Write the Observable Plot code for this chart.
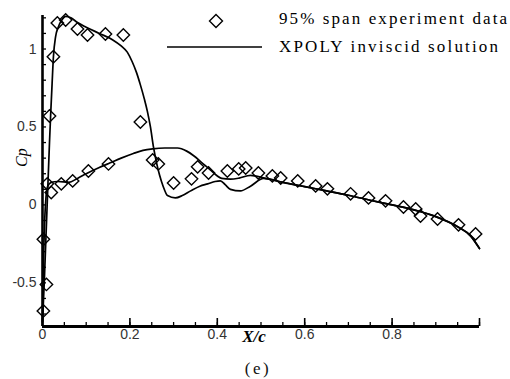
<!DOCTYPE html>
<html>
<head>
<meta charset="utf-8">
<script src="https://cdn.jsdelivr.net/npm/d3@7"></script>
<script src="https://cdn.jsdelivr.net/npm/@observablehq/plot@0.6"></script>
<style>
  html, body { margin: 0; padding: 0; background: #fff; }
  #wrap { position: relative; width: 510px; height: 379px; }
  #legend { position: absolute; left: 0; top: 0; }
  #caption { font-family: "Liberation Serif", serif; font-size: 17px; letter-spacing: 2.5px;
             text-align: center; line-height: 22px; margin-top: 6px; padding-left: 6px; color: #111; }
</style>
</head>
<body>
<div id="wrap"></div>
<script>
// ---- data (x/c, Cp) ----
const upperSurface = [
  [0, -0.75], [0.004, -0.5], [0.008, -0.2], [0.012, 0.1], [0.016, 0.4], [0.019, 0.6],
  [0.022, 0.78], [0.025, 0.95], [0.03, 1.08], [0.036, 1.14], [0.045, 1.19], [0.053, 1.21],
  [0.065, 1.2], [0.08, 1.17], [0.1, 1.14], [0.13, 1.1], [0.16, 1.06], [0.18, 1.02],
  [0.194, 0.98], [0.205, 0.92], [0.215, 0.85], [0.224, 0.77], [0.233, 0.68], [0.24, 0.6],
  [0.247, 0.5], [0.254, 0.37], [0.261, 0.27], [0.268, 0.19], [0.276, 0.12], [0.286, 0.06],
  [0.304, 0.045], [0.32, 0.06], [0.339, 0.09], [0.36, 0.12], [0.378, 0.135], [0.395, 0.15],
  [0.407, 0.154], [0.418, 0.13], [0.43, 0.1], [0.453, 0.09], [0.476, 0.12], [0.506, 0.17],
  [0.55, 0.145], [0.6, 0.117], [0.65, 0.09], [0.7, 0.062], [0.75, 0.03], [0.8, 0.0],
  [0.85, -0.032], [0.9, -0.075], [0.95, -0.14], [0.98, -0.2], [1.0, -0.28]
];
const lowerSurface = [
  [0, -0.75], [0.002, -0.4], [0.005, -0.1], [0.008, 0.05], [0.012, 0.12], [0.02, 0.145],
  [0.035, 0.15], [0.06, 0.145], [0.08, 0.17], [0.1, 0.2], [0.13, 0.24], [0.155, 0.27],
  [0.18, 0.3], [0.208, 0.33], [0.23, 0.35], [0.252, 0.36], [0.28, 0.365], [0.309, 0.365],
  [0.33, 0.345], [0.346, 0.315], [0.365, 0.27], [0.384, 0.225], [0.398, 0.19], [0.41, 0.17],
  [0.43, 0.165], [0.45, 0.172], [0.476, 0.19], [0.51, 0.17],
  [0.55, 0.145], [0.6, 0.117], [0.65, 0.09], [0.7, 0.062], [0.75, 0.03], [0.8, 0.0],
  [0.85, -0.032], [0.9, -0.075], [0.95, -0.14], [0.98, -0.2], [1.0, -0.28]
];
const experiment = [
  [0.002, -0.68], [0.009, -0.51], [0.002, -0.22], [0.02, 0.08], [0.011, 0.135],
  [0.043, 0.135], [0.069, 0.154], [0.105, 0.218], [0.151, 0.263],
  [0.016, 0.57], [0.025, 0.95], [0.034, 1.167], [0.053, 1.186], [0.08, 1.128],
  [0.103, 1.09], [0.144, 1.096], [0.185, 1.09], [0.224, 0.532],
  [0.252, 0.288], [0.265, 0.263], [0.3, 0.141], [0.341, 0.167], [0.355, 0.244],
  [0.38, 0.205], [0.423, 0.218], [0.449, 0.231], [0.465, 0.237], [0.494, 0.205],
  [0.526, 0.186], [0.545, 0.173], [0.584, 0.154], [0.625, 0.122], [0.652, 0.103],
  [0.705, 0.071], [0.746, 0.045], [0.785, 0.026], [0.826, -0.013], [0.854, -0.026],
  [0.865, -0.071], [0.904, -0.09], [0.952, -0.128], [0.991, -0.186]
];
const xLabelTicks = [0, 0.2, 0.4, 0.6, 0.8];
const xMajorTicks = [0, 0.2, 0.4, 0.6, 0.8, 1];
const yLabelTicks = [-0.5, 0, 0.5, 1];
const xDomain = [0, 1];
const yDomain = [-0.78, 1.215];
const seriesLabels = ["95% span experiment data", "XPOLY inviscid solution"];
const xAxisLabel = "X/c";
const yAxisLabel = "Cp";
const panelLabel = "(e)";

const xMinorTicks = d3.range(0, 1.0001, 0.05);
const yMinorTicks = d3.range(-0.7, 1.21, 0.1);

const toObj = ([x, y]) => ({x, y});

const W = 510, H = 352, ML = 42, MR = 31, MT = 15, MB = 26;
const frameW = W - ML - MR, frameH = H - MT - MB;
// convert a pixel tick length into data units of each scale
const yPerPx = (yDomain[1] - yDomain[0]) / frameH;
const xPerPx = (xDomain[1] - xDomain[0]) / frameW;

const chart = Plot.plot({
  width: W,
  height: H,
  marginLeft: ML,
  marginRight: MR,
  marginTop: MT,
  marginBottom: MB,
  style: {fontFamily: "Liberation Sans, Arial, sans-serif", background: "#fff", color: "#000"},
  x: {domain: xDomain, axis: null},
  y: {domain: yDomain, axis: null},
  marks: [
    // inward tick marks
    Plot.ruleX(xMinorTicks, {y1: yDomain[0], y2: yDomain[0] + 4 * yPerPx, stroke: "#000", strokeWidth: 1.3}),
    Plot.ruleX(xMajorTicks, {y1: yDomain[0], y2: yDomain[0] + 8 * yPerPx, stroke: "#000", strokeWidth: 1.6}),
    Plot.ruleY(yMinorTicks, {x1: xDomain[0], x2: xDomain[0] + 4 * xPerPx, stroke: "#000", strokeWidth: 1.3}),
    Plot.axisX({ticks: xLabelTicks, tickSize: 0, tickPadding: 3, tickFormat: d => String(d),
                fontSize: 14, fill: "#333", label: null, style: {letterSpacing: "1.5px"}}),
    Plot.axisY({ticks: yLabelTicks, tickSize: 0, tickPadding: 6, tickFormat: d => String(d),
                fontSize: 14, fill: "#333", label: null}),
    Plot.ruleX([xDomain[0]], {stroke: "#000", strokeWidth: 2.6}),
    Plot.ruleY([yDomain[0]], {stroke: "#000", strokeWidth: 3}),
    Plot.line(upperSurface.map(toObj), {x: "x", y: "y", stroke: "#000", strokeWidth: 1.7, curve: "monotone-x"}),
    Plot.line(lowerSurface.map(toObj), {x: "x", y: "y", stroke: "#000", strokeWidth: 1.7, curve: "monotone-x"}),
    Plot.dot(experiment.map(toObj), {x: "x", y: "y", symbol: "diamond2", r: 5.6, stroke: "#000", strokeWidth: 1.4, fill: "none"}),
    Plot.text([xAxisLabel], {frameAnchor: "bottom", dx: -7, dy: 15, fontSize: 17, fontWeight: "bold",
                             fontStyle: "italic", fontFamily: "Liberation Serif, serif", fill: "#000"}),
    Plot.text([yAxisLabel], {frameAnchor: "left", dx: -21, dy: -4, rotate: -90, fontSize: 16,
                             fontStyle: "italic", fontFamily: "Liberation Serif, serif", fill: "#000"})
  ]
});

const wrap = document.getElementById("wrap");
wrap.appendChild(chart);

// legend overlay
const leg = d3.select(wrap).append("svg").attr("id", "legend").attr("width", 510).attr("height", 60);
const ds = 6.5;
leg.append("path").attr("d", `M216,${21 - ds}L${216 + ds},21L216,${21 + ds}L${216 - ds},21Z`)
  .attr("fill", "none").attr("stroke", "#000").attr("stroke-width", 1.4);
leg.append("line").attr("x1", 167).attr("x2", 262).attr("y1", 47).attr("y2", 47)
  .attr("stroke", "#000").attr("stroke-width", 1.7);
leg.selectAll("text.l").data(seriesLabels).join("text")
  .attr("x", 279).attr("y", (d, i) => 24 + i * 28)
  .attr("font-family", "Liberation Serif, serif").attr("font-size", 17)
  .attr("textLength", (d, i) => i === 0 ? 228 : 219).attr("lengthAdjust", "spacing")
  .attr("fill", "#000").text(d => d);

const cap = document.createElement("div");
cap.id = "caption";
cap.textContent = panelLabel;
wrap.appendChild(cap);
</script>
</body>
</html>
